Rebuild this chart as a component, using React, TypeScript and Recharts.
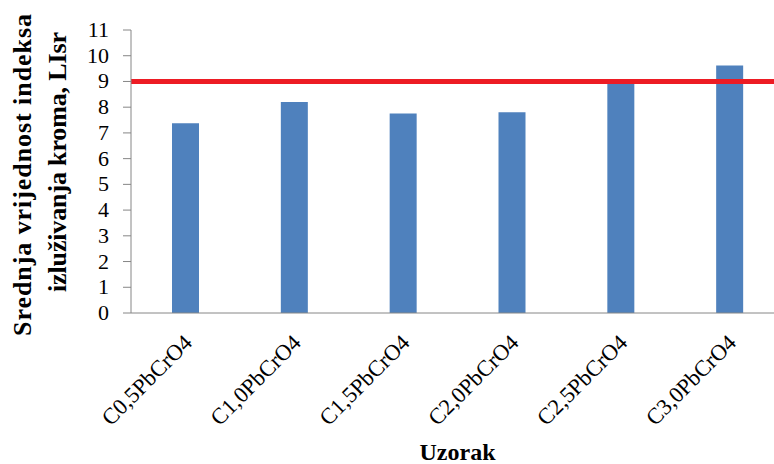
import { BarChart, Bar, XAxis, YAxis, ReferenceLine, Label } from 'recharts';

const uzorci = ['C0,5PbCrO4', 'C1,0PbCrO4', 'C1,5PbCrO4', 'C2,0PbCrO4', 'C2,5PbCrO4', 'C3,0PbCrO4'];
const lisr = [7.38, 8.2, 7.75, 7.8, 8.95, 9.62];
const yTicks = [0, 1, 2, 3, 4, 5, 6, 7, 8, 9, 10, 11];
const granica = 9;
const yTitle = ['Srednja vrijednost indeksa', 'izluživanja kroma, LIsr'];

const data = uzorci.map((u, i) => ({ uzorak: u, lisr: lisr[i] }));

const serif = '"Liberation Serif", "Times New Roman", serif';

function XTick(props: any) {
  const { x, y, payload } = props;
  const ax = x + 8, ay = y + 31;
  return (
    <text x={ax} y={ay} transform={`rotate(-45, ${ax}, ${ay})`}
      textAnchor='end' style={{ fontFamily: serif, fontSize: 22.5, fill: '#000' }}>
      {payload.value}
    </text>
  );
}

function YTick(props: any) {
  const { x, y, payload } = props;
  return (
    <text x={x} y={y} dy={7} textAnchor='end' style={{ fontFamily: serif, fontSize: 22, fill: '#000' }}>
      {payload.value}
    </text>
  );
}

function YTitle() {
  // two lines, each rotated around its own anchor point
  const lines = [
    { bx: 31, cy: 175, len: 322 },
    { bx: 66, cy: 162, len: 260 },
  ];
  return (
    <g>
      {lines.map((l, i) => (
        <text key={i} x={l.bx} y={l.cy} transform={`rotate(-90, ${l.bx}, ${l.cy})`}
          textAnchor='middle' textLength={l.len} lengthAdjust='spacing'
          style={{ fontFamily: serif, fontSize: 26, fontWeight: 'bold', fill: '#000' }}>
          {yTitle[i]}
        </text>
      ))}
    </g>
  );
}

export default function App() {
  return (
    <div style={{ position: 'absolute', left: 0, top: 0, width: 774, height: 464, overflow: 'hidden', background: 'white' }}>
      <BarChart width={784} height={464} data={data}
        margin={{ top: 30, right: 0, bottom: 0, left: 0 }} barCategoryGap={0}>
        <XAxis dataKey='uzorak' height={151} tickLine={false} tickSize={0} tickMargin={0}
          axisLine={{ stroke: '#868686' }} tick={<XTick />} interval={0}>
          <Label value='Uzorak' position='insideBottom' offset={4}
            style={{ fontFamily: serif, fontSize: 24, fontWeight: 'bold', fill: '#000' }} />
        </XAxis>
        <YAxis width={131} domain={[0, 11]} ticks={yTicks} interval={0}
          tickSize={8} tickMargin={14} axisLine={{ stroke: '#868686' }} tickLine={{ stroke: '#868686' }}
          tick={<YTick />}>
          <Label content={<YTitle />} />
        </YAxis>
        <Bar dataKey='lisr' fill='#4F81BD' barSize={27} isAnimationActive={false} />
        <ReferenceLine y={granica} stroke='#ED1C24' strokeWidth={5} />
      </BarChart>
    </div>
  );
}
